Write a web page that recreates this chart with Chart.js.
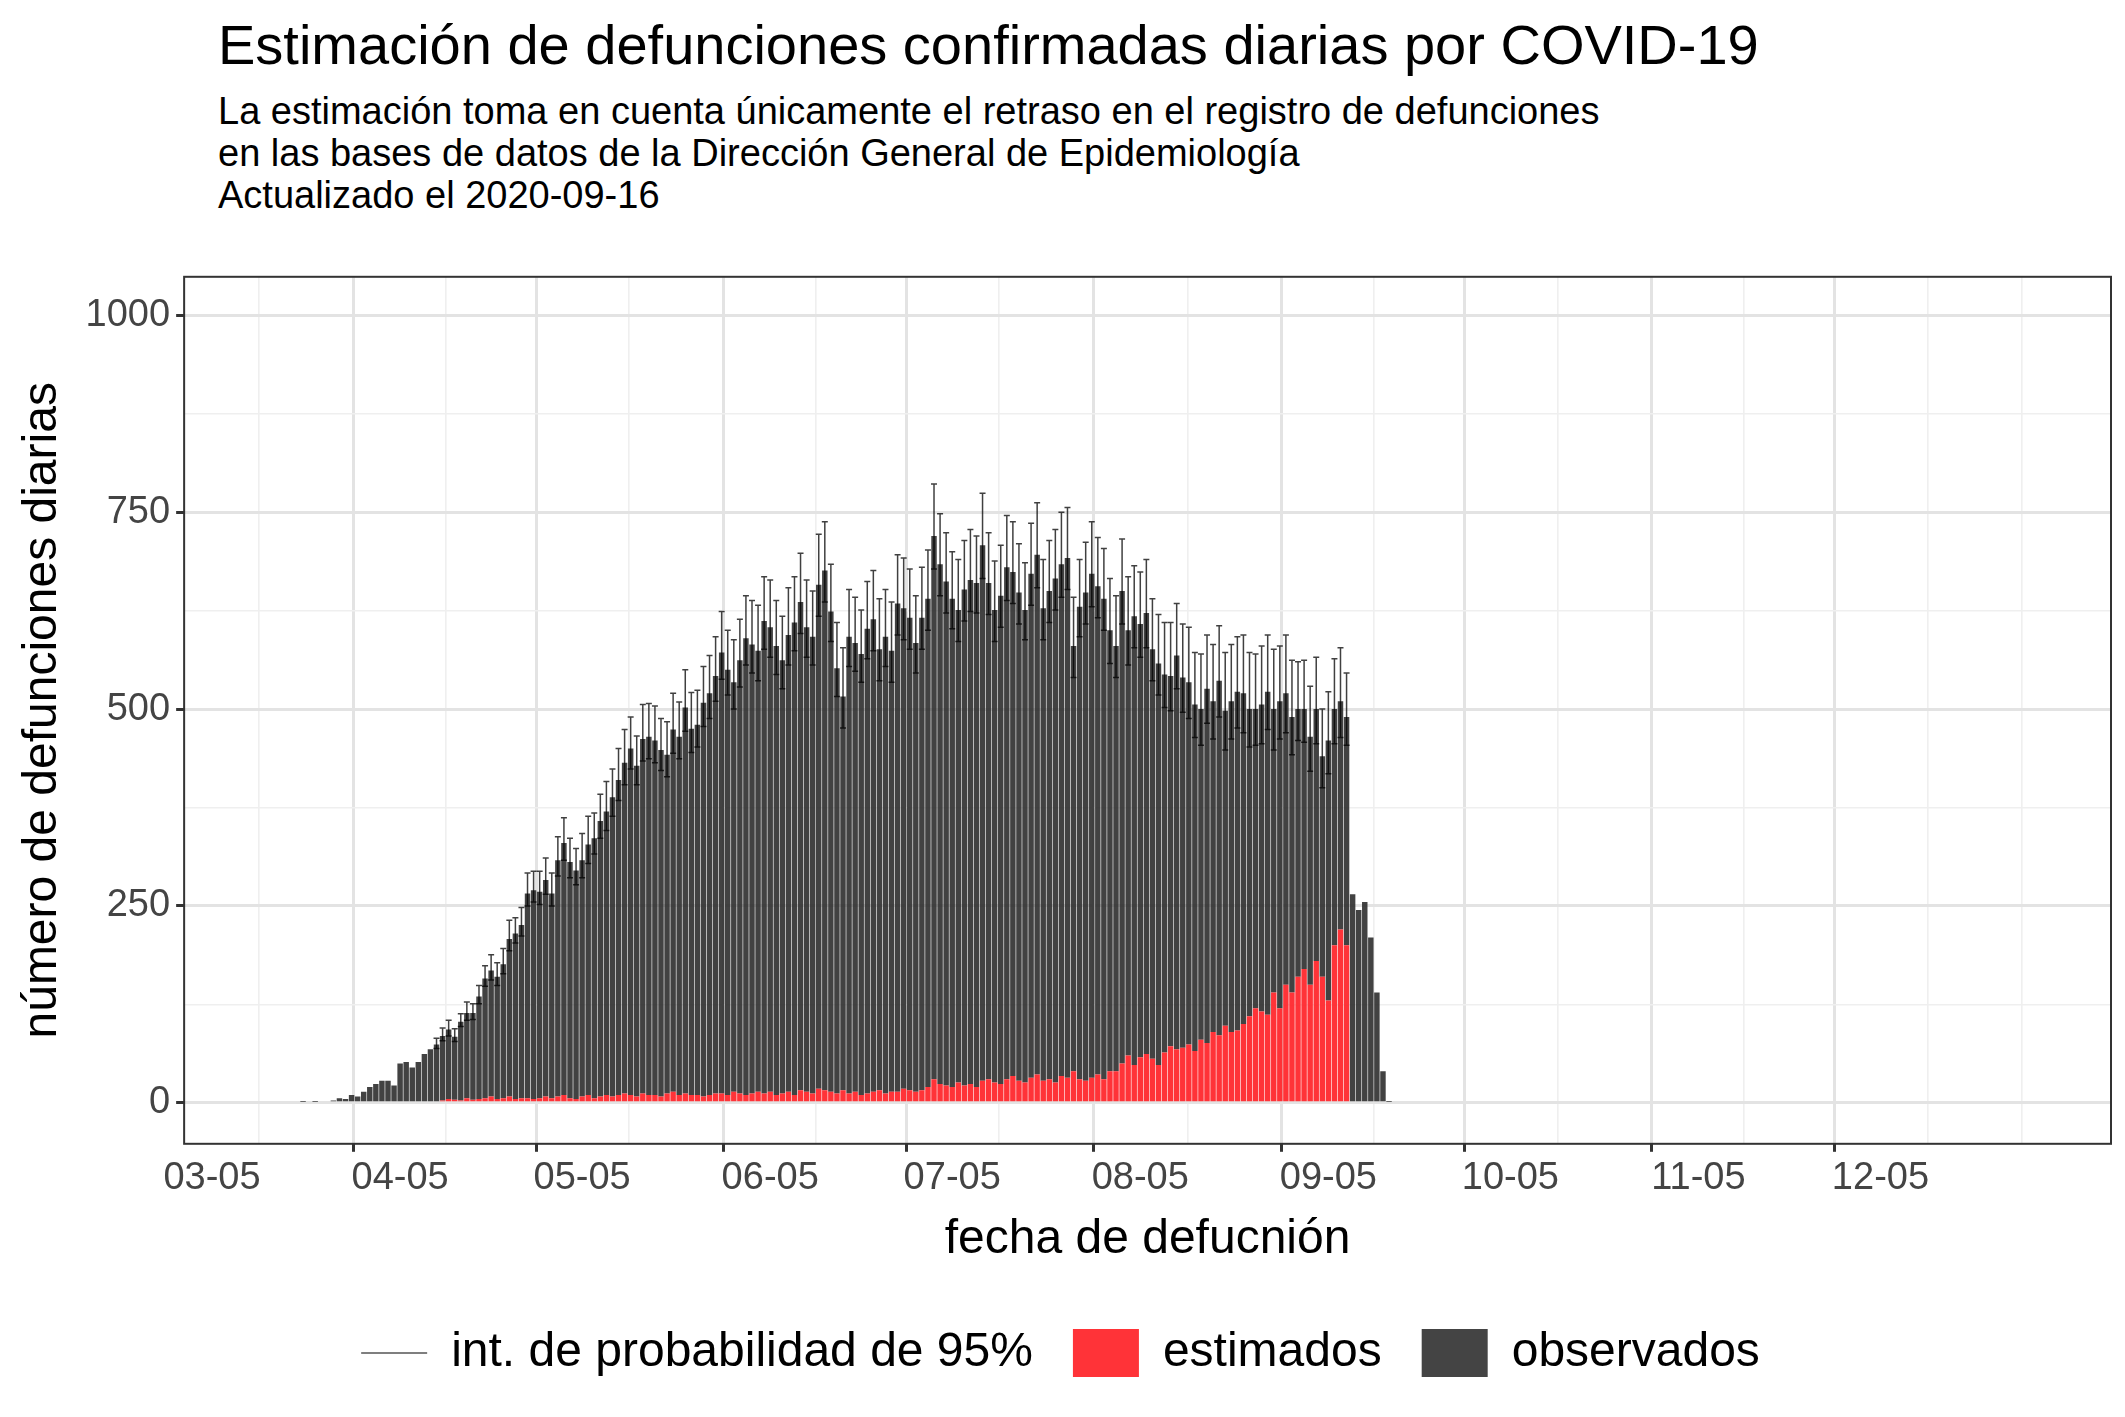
<!DOCTYPE html>
<html><head><meta charset="utf-8">
<script src="https://cdn.jsdelivr.net/npm/chart.js@4"></script>
<style>
body{margin:0;background:#fff;font-family:"Liberation Sans",Arial,sans-serif}
#head{position:absolute;left:218px;top:12px;color:#000}
#t1{font-size:56px;line-height:66px}
#t2{font-size:38px;line-height:42px;margin-top:12px}
#wrap{position:absolute;left:0;top:248px;width:2125px;height:1169px}
</style></head><body>
<div id="head"><div id="t1">Estimación de defunciones confirmadas diarias por COVID-19</div>
<div id="t2">La estimación toma en cuenta únicamente el retraso en el registro de defunciones<br>en las bases de datos de la Dirección General de Epidemiología<br>Actualizado el 2020-09-16</div></div>
<div id="wrap"><canvas id="c"></canvas></div>
<script>
// day 0 = 2020-03-05, first value = 03-18
let firstDay = 13
let observados = [2,0,1,0,1,2,2,3,6,5,10,8,14,20,
24,28,28,22,50,52,45,52,62,68,72,82,88,80,100,108,110,130,152,160,155,170,200,210,220,260,265,262,275,260,
300,320,300,290,300,318,330,350,360,380,400,420,440,420,450,455,450,440,430,460,455,490,465,470,500,510,530,560,540,520,550,
580,570,560,600,590,570,550,580,600,620,590,580,640,660,610,540,500,580,570,560,590,600,560,580,560,620,610,600,570,600,
620,690,660,640,620,600,630,640,640,680,630,600,620,650,640,620,600,640,660,600,620,640,650,660,540,600,620,640,620,610,560,
540,600,540,570,550,560,520,510,480,470,500,470,460,440,420,450,420,450,400,420,430,420,390,380,390,410,360,390,370,350,340,
330,315,320,280,330,300,290,290,265,245,255,210,140,40,1,0]
let estimados = [0,0,0,0,0,0,0,0,0,0,0,0,0,0,
0,0,0,0,0,0,0,0,0,0,2,3,5,4,3,6,4,5,6,8,5,6,8,5,6,6,5,6,8,6,
8,10,6,5,8,10,6,8,10,8,10,12,10,8,12,10,10,8,12,14,10,12,10,10,8,10,12,12,10,14,12,
10,12,14,12,14,10,12,14,10,16,14,12,18,16,14,12,16,12,14,10,12,14,16,12,14,14,18,16,14,16,
20,30,24,22,20,26,22,24,20,28,30,26,24,30,34,28,26,32,36,28,30,26,34,32,40,30,28,32,36,30,40,
40,50,60,48,58,62,56,48,64,72,68,70,74,66,80,76,90,86,98,90,92,100,110,120,116,112,140,120,150,140,160,
170,150,180,160,130,200,220,200,0,0,0,0,0,0,0,0]
// CI margins above / below the estimated total
let ciArriba = [0,0,0,0,0,0,0,0,0,0,0,0,0,0,
0,0,0,0,0,0,0,0,0,0,8,10,12,10,10,14,12,14,16,20,18,20,24,20,22,26,24,26,28,26,
30,32,30,28,34,36,32,34,38,36,40,42,40,38,44,42,44,40,42,46,44,48,46,44,46,48,50,52,50,54,52,
54,56,58,56,60,58,56,60,58,62,60,58,64,62,60,58,62,60,58,56,60,62,64,60,62,62,64,62,60,64,
62,66,64,62,60,64,62,64,60,66,64,62,64,66,64,62,60,64,66,62,64,62,66,64,62,60,64,66,62,64,66,
64,66,68,64,66,68,64,62,66,68,66,68,70,66,70,68,72,70,74,72,70,74,72,70,74,72,76,70,74,72,60,
62,64,66,60,62,64,68,56,0,0,0,0,0,0,0,0]
let ciAbajo = [0,0,0,0,0,0,0,0,0,0,0,0,0,0,
0,0,0,0,0,0,0,0,0,0,5,6,8,6,6,9,8,9,10,12,11,12,15,12,14,16,15,16,18,16,
20,22,20,18,22,24,20,22,24,24,26,28,26,24,28,28,28,26,28,30,28,30,30,28,30,32,32,34,32,34,34,
34,36,38,36,38,36,36,38,36,40,38,36,40,40,38,36,40,38,36,36,38,40,40,38,40,40,40,40,38,40,
40,42,40,40,38,40,40,40,38,42,40,40,40,42,40,40,38,40,42,40,40,40,42,40,40,38,40,42,40,40,42,
40,42,44,40,42,44,40,40,42,44,42,44,46,42,46,44,48,46,50,48,46,50,48,46,50,48,52,48,50,48,40,
42,44,44,40,42,44,46,36,0,0,0,0,0,0,0,0]
let majorDays = [0,31,61,92,122,153,184,214,245,275]
let majorLabels = ["03-05","04-05","05-05","06-05","07-05","08-05","09-05","10-05","11-05","12-05"]
let yLabels = [0,250,500,750,1000]

let obsPts = observados.map((v,i)=>({x:firstDay+i,y:v}))
let estPts = estimados.map((v,i)=>({x:firstDay+i,y:v}))

let tickFont = {family:"Liberation Sans",size:38}
let ticksAll = []
for (let i=0;i<majorDays.length;i++){ticksAll.push(majorDays[i]); if(i<majorDays.length-1) ticksAll.push((majorDays[i]+majorDays[i+1])/2)}
ticksAll.push(290.5); ticksAll.push(306)

function isMajorX(c){return c.tick && majorDays.includes(c.tick.value)}
function isMajorY(c){return c.tick && yLabels.includes(c.tick.value)}

let deco = {
  id:"deco",
  afterDatasetsDraw(chart){
    let ctx = chart.ctx, xs = chart.scales.x, ys = chart.scales.y
    ctx.save()
    ctx.lineWidth = 1.5
    for (let i=0;i<observados.length;i++){
      if (!ciArriba[i]) continue
      let tot = observados[i]+estimados[i]
      let x = xs.getPixelForValue(firstDay+i)
      let yt = ys.getPixelForValue(tot+ciArriba[i]), yb = ys.getPixelForValue(tot-ciAbajo[i])
      ctx.strokeStyle = "rgba(0,0,0,0.75)"
      ctx.beginPath()
      ctx.moveTo(x,yt);ctx.lineTo(x,yb)
      ctx.moveTo(x-3,yt);ctx.lineTo(x+3,yt)
      ctx.moveTo(x-3,yb);ctx.lineTo(x+3,yb)
      ctx.stroke()
    }
    let a = chart.chartArea
    ctx.strokeStyle = "#333"; ctx.lineWidth = 2
    ctx.strokeRect(a.left,a.top,a.right-a.left,a.bottom-a.top)
    ctx.restore()
  }
}

new Chart(document.getElementById("c"), {
  type:"bar",
  data:{datasets:[
    {label:"observados",data:obsPts,backgroundColor:"rgba(40,40,40,0.88)",barPercentage:0.9,categoryPercentage:1,stack:"a",order:2},
    {label:"estimados",data:estPts,backgroundColor:"rgba(255,40,45,0.95)",barPercentage:0.9,categoryPercentage:1,stack:"a",order:1}
  ]},
  plugins:[deco],
  options:{
    responsive:true,maintainAspectRatio:false,animation:false,
    layout:{padding:{left:10,right:14,top:4,bottom:30}},
    scales:{
      x:{type:"linear",stacked:true,min:-4.6,max:313,offset:false,
        afterBuildTicks(s){s.ticks = ticksAll.map(v=>({value:v}))},
        ticks:{autoSkip:false,maxRotation:0,color:"#444",font:tickFont,padding:4,
          callback(v){let k=majorDays.indexOf(v);return k>=0?majorLabels[k]:""}},
        grid:{color(c){return isMajorX(c)?"#e3e3e3":"#efefef"},lineWidth(c){return isMajorX(c)?3:1.6},
          tickColor(c){return isMajorX(c)?"#333":"rgba(0,0,0,0)"},tickLength:8},
        border:{display:false},
        title:{display:true,text:"fecha de defucnión",color:"#000",font:{family:"Liberation Sans",size:48},padding:{top:6,bottom:20}}},
      y:{stacked:true,min:-52,max:1049,
        afterBuildTicks(s){s.ticks=[0,125,250,375,500,625,750,875,1000].map(v=>({value:v}))},
        ticks:{color:"#444",font:tickFont,padding:6,callback(v){return yLabels.includes(v)?v:""}},
        grid:{color(c){return isMajorY(c)?"#e3e3e3":"#efefef"},lineWidth(c){return isMajorY(c)?3:1.6},
          tickColor(c){return isMajorY(c)?"#333":"rgba(0,0,0,0)"},tickLength:8},
        border:{display:false},
        title:{display:true,text:"número de defunciones diarias",color:"#000",font:{family:"Liberation Sans",size:48},padding:{bottom:8}}}
    },
    plugins:{
      tooltip:{enabled:false},
      legend:{position:"bottom",labels:{
        color:"#000",font:{family:"Liberation Sans",size:48},padding:40,boxWidth:66,boxHeight:66,
        usePointStyle:true,pointStyleWidth:66,
        generateLabels(){return [
          {text:"int. de probabilidad de 95%",fillStyle:"#fff",strokeStyle:"#555",lineWidth:1.5,pointStyle:"line"},
          {text:"estimados",fillStyle:"#ff3338",strokeStyle:"#ff3338",lineWidth:0,pointStyle:"rect"},
          {text:"observados",fillStyle:"#444",strokeStyle:"#444",lineWidth:0,pointStyle:"rect"}
        ]}}}
    }
  }
})
</script></body></html>
